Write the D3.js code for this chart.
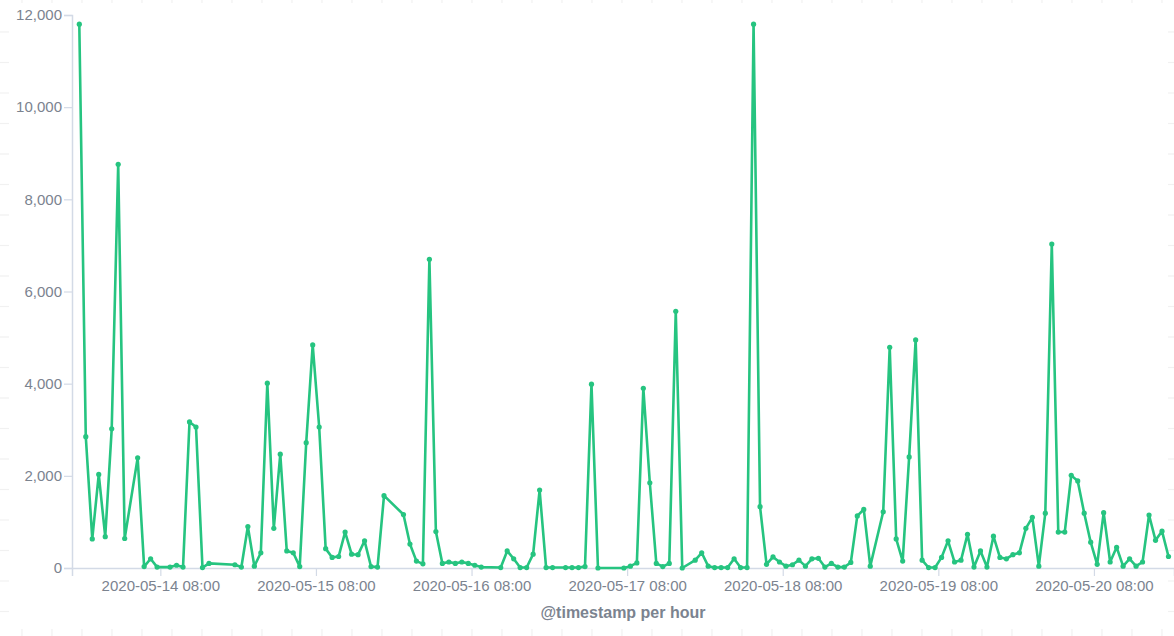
<!DOCTYPE html>
<html>
<head>
<meta charset="utf-8">
<script src="https://cdn.jsdelivr.net/npm/d3@7"></script>
<style>
  html, body { margin: 0; padding: 0; background: #fff; }
  svg { display: block; font-family: "Liberation Sans", Arial, sans-serif; }
</style>
</head>
<body>
<svg id="chart" width="1174" height="636"></svg>
<script>
// ---- data ----
// hourly buckets, starting 2020-05-13 19:30 (null = empty bucket)
const firstBucket = new Date(2020, 4, 13, 19, 30);
const hourlyCounts = [
  11800, 2850, 630, 2030, 680, 3020, 8760, 640, null, 2390,
  30, 200, 20, null, 20, 60, 20, 3170, 3060, 10,
  100, null, null, null, 70, 20, 900, 40, 330, 4010,
  860, 2470, 370, 330, 30, 2720, 4840, 3060, 420, 230,
  250, 780, 300, 290, 590, 30, 20, 1570, null, null,
  1160, 520, 150, 90, 6700, 790, 100, 130, 100, 130,
  100, 60, 20, null, null, 10, 370, 200, 10, 10,
  300, 1690, 10, 10, null, 10, 10, 10, 30, 3990,
  0, null, null, null, 0, 40, 110, 3900, 1850, 100,
  30, 100, 5570, 0, null, 170, 330, 40, 10, 10,
  10, 200, 10, 10, 11800, 1330, 80, 240, 130, 40,
  70, 170, 40, 200, 210, 20, 100, 20, 20, 120,
  1130, 1270, 40, null, 1220, 4790, 630, 150, 2410, 4950,
  170, 10, 10, 230, 590, 130, 170, 730, 20, 370,
  20, 690, 230, 200, 290, 330, 860, 1100, 40, 1190,
  7030, 780, 780, 2010, 1890, 1190, 560, 80, 1200, 130,
  450, 40, 200, 40, 130, 1150, 600, 800, 250
];
const xTickDates = ["2020-05-14", "2020-05-15", "2020-05-16", "2020-05-17", "2020-05-18", "2020-05-19", "2020-05-20"];
const yTickValues = [0, 2000, 4000, 6000, 8000, 10000, 12000];
const xAxisTitle = "@timestamp per hour";

(function () {
  const HOUR = 3600 * 1000;
  const points = hourlyCounts
    .map((v, i) => ({ t: new Date(firstBucket.getTime() + i * HOUR), v }))
    .filter(d => d.v !== null);

  const svg = d3.select("#chart");
  const W = 1174, H = 636;
  const mLeft = 72, mRight = 1174, mTop = 15, mBottom = 568;

  // faint background frame marks
  const deco = svg.append("g").attr("stroke", "#f1f1f1").attr("stroke-width", 1.2);
  d3.range(22, W, 30).forEach(px => {
    deco.append("line").attr("x1", px).attr("x2", px).attr("y1", 0).attr("y2", 3);
    deco.append("line").attr("x1", px).attr("x2", px).attr("y1", 629).attr("y2", 636);
  });
  d3.range(32, H, 30.5).forEach(py => {
    deco.append("line").attr("x1", 0).attr("x2", 9).attr("y1", py).attr("y2", py);
    deco.append("line").attr("x1", 1168).attr("x2", 1174).attr("y1", py).attr("y2", py);
  });

  const x0 = new Date(firstBucket.getTime() - 1.126 * HOUR);
  const x1 = new Date(firstBucket.getTime() + 168.85 * HOUR);
  const x = d3.scaleTime().domain([x0, x1]).range([mLeft, mRight]);
  const y = d3.scaleLinear().domain([0, 12000]).range([mBottom, mTop]);

  const axisColor = "#d3dae6";
  const textColor = "#7b838f";

  const yAxis = svg.append("g")
    .attr("transform", `translate(${mLeft},0)`)
    .call(d3.axisLeft(y).tickValues(yTickValues).tickFormat(d3.format(",")).tickSize(8).tickPadding(2));
  yAxis.select(".domain").attr("stroke", axisColor).attr("stroke-width", 1.5);
  yAxis.selectAll(".tick line").attr("stroke", axisColor).attr("stroke-width", 1.2);
  yAxis.selectAll(".tick text").attr("fill", textColor).attr("font-size", 15);

  const parseTick = d3.timeParse("%Y-%m-%d %H:%M");
  const xTicks = xTickDates.map(d => parseTick(d + " 08:00"));
  const xAxis = svg.append("g")
    .attr("transform", `translate(0,${mBottom})`)
    .call(d3.axisBottom(x).tickValues(xTicks).tickFormat(d3.timeFormat("%Y-%m-%d %H:%M")).tickSize(8).tickPadding(4));
  xAxis.select(".domain").attr("stroke", axisColor).attr("stroke-width", 1.5);
  xAxis.selectAll(".tick line").attr("stroke", axisColor).attr("stroke-width", 1.2);
  xAxis.selectAll(".tick text").attr("fill", textColor).attr("font-size", 15);

  svg.append("text")
    .attr("x", 623).attr("y", 618)
    .attr("text-anchor", "middle")
    .attr("fill", textColor)
    .attr("font-size", 16)
    .attr("font-weight", "bold")
    .text(xAxisTitle);

  const green = "#26c480";
  const plot = svg.append("g");
  plot.append("path")
    .datum(points)
    .attr("fill", "none")
    .attr("stroke", green)
    .attr("stroke-width", 2.6)
    .attr("stroke-linejoin", "round")
    .attr("stroke-linecap", "round")
    .attr("d", d3.line().x(d => x(d.t)).y(d => y(d.v)));

  plot.selectAll("circle")
    .data(points)
    .join("circle")
    .attr("cx", d => x(d.t))
    .attr("cy", d => y(d.v))
    .attr("r", 2.6)
    .attr("fill", green);
})();
</script>
</body>
</html>
